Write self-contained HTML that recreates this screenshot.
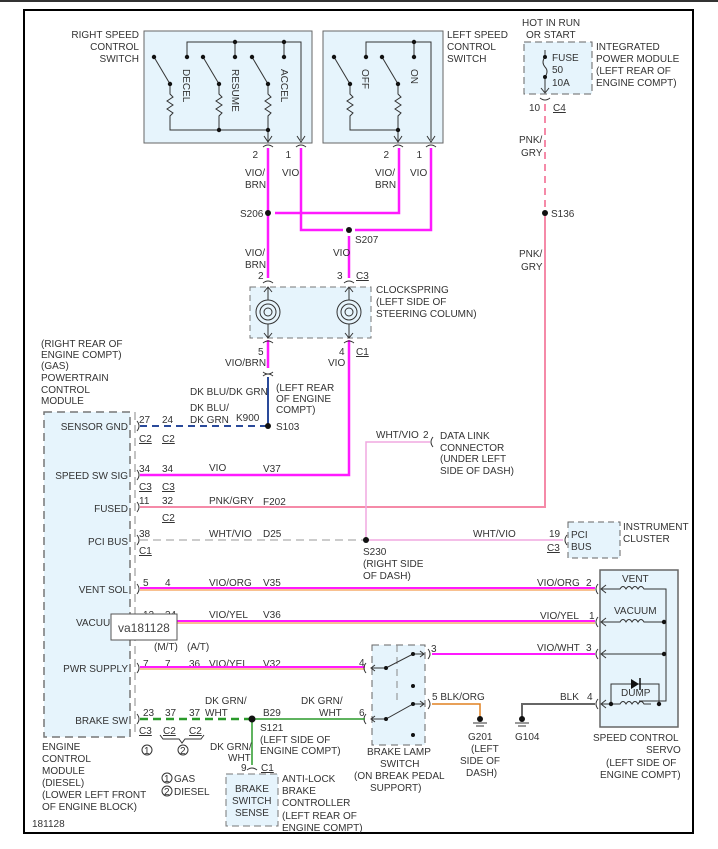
<!DOCTYPE html>
<html><head><meta charset="utf-8"><style>
html,body{margin:0;padding:0;background:#fff;}
svg{display:block;font-family:"Liberation Sans",sans-serif;}
text{font-size:10px;fill:#333;}
</style></head><body>
<svg width="718" height="849" viewBox="0 0 718 849" xmlns="http://www.w3.org/2000/svg">
<defs>
<marker id="ah" markerWidth="8" markerHeight="8" refX="4" refY="7" orient="auto" markerUnits="userSpaceOnUse">
<path d="M0,1 L4,7 L8,1" fill="none" stroke="#333" stroke-width="1"/></marker>
</defs>
<rect x="0" y="0" width="718" height="2" fill="#333"/>
<rect x="24" y="10" width="669" height="823" fill="none" stroke="#000" stroke-width="2"/>

<!-- Right speed switch -->
<rect x="144" y="31" width="168" height="112" fill="#e6f4fc" stroke="#666"/>
<text x="139" y="38" text-anchor="end">RIGHT SPEED</text>
<text x="139" y="50" text-anchor="end">CONTROL</text>
<text x="139" y="62" text-anchor="end">SWITCH</text>
<g stroke="#333" stroke-width="1" fill="none">
<polyline points="187,57 187,42 301,42 301,140"/>
<line x1="235" y1="42" x2="235" y2="57"/><line x1="284" y1="42" x2="284" y2="57"/>
<line x1="154" y1="57" x2="170" y2="84"/><line x1="203" y1="57" x2="219" y2="84"/><line x1="252" y1="57" x2="268" y2="84"/>
<path d="M170,84 v10 l3,3 l-6,4 l6,4 l-6,4 l6,4 l-3,3 v8 M219,84 v10 l3,3 l-6,4 l6,4 l-6,4 l6,4 l-3,3 v8 M268,84 v10 l3,3 l-6,4 l6,4 l-6,4 l6,4 l-3,3 v8"/>
<polyline points="170,122 170,130 268,130"/><line x1="219" y1="122" x2="219" y2="130"/>
<line x1="268" y1="122" x2="268" y2="141"/>
<path d="M264,136 L268,142 L272,136 M297,136 L301,142 L305,136"/>
<path d="M263,147 q5,-4 10,0 M296,147 q5,-4 10,0"/>
</g>
<g fill="#111">
<circle cx="154" cy="57" r="2.2"/><circle cx="187" cy="57" r="2.2"/><circle cx="203" cy="57" r="2.2"/><circle cx="235" cy="57" r="2.2"/><circle cx="252" cy="57" r="2.2"/><circle cx="284" cy="57" r="2.2"/>
<circle cx="170" cy="84" r="2.2"/><circle cx="219" cy="84" r="2.2"/><circle cx="268" cy="84" r="2.2"/>
<circle cx="235" cy="42" r="2.2"/><circle cx="284" cy="42" r="2.2"/>
<circle cx="219" cy="130" r="2.2"/><circle cx="268" cy="130" r="2.2"/>
</g>
<text transform="translate(183,69) rotate(90)">DECEL</text>
<text transform="translate(232,69) rotate(90)">RESUME</text>
<text transform="translate(281,69) rotate(90)">ACCEL</text>

<!-- Left speed switch -->
<rect x="323" y="31" width="120" height="112" fill="#e6f4fc" stroke="#666"/>
<text x="447" y="38">LEFT SPEED</text><text x="447" y="50">CONTROL</text><text x="447" y="62">SWITCH</text>
<g stroke="#333" stroke-width="1" fill="none">
<polyline points="366,57 366,42 431,42 431,140"/>
<line x1="414" y1="42" x2="414" y2="57"/>
<line x1="334" y1="57" x2="350" y2="84"/><line x1="382" y1="57" x2="398" y2="84"/>
<path d="M350,84 v10 l3,3 l-6,4 l6,4 l-6,4 l6,4 l-3,3 v8 M398,84 v10 l3,3 l-6,4 l6,4 l-6,4 l6,4 l-3,3 v8"/>
<polyline points="350,122 350,130 398,130"/><line x1="398" y1="122" x2="398" y2="141"/>
<path d="M394,136 L398,142 L402,136 M427,136 L431,142 L435,136"/>
<path d="M393,147 q5,-4 10,0 M426,147 q5,-4 10,0"/>
</g>
<g fill="#111">
<circle cx="334" cy="57" r="2.2"/><circle cx="366" cy="57" r="2.2"/><circle cx="382" cy="57" r="2.2"/><circle cx="414" cy="57" r="2.2"/>
<circle cx="350" cy="84" r="2.2"/><circle cx="398" cy="84" r="2.2"/><circle cx="414" cy="42" r="2.2"/><circle cx="398" cy="130" r="2.2"/>
</g>
<text transform="translate(362,69) rotate(90)">OFF</text>
<text transform="translate(411,69) rotate(90)">ON</text>

<!-- top magenta wires -->
<g stroke="#ff1aff" stroke-width="2.5" fill="none">
<line x1="268" y1="148" x2="268" y2="278"/>
<polyline points="301,148 301,230 343,230"/>
<polyline points="275,213 399,213 399,148"/>
<polyline points="355,230 431,230 431,148"/>
<line x1="349" y1="236" x2="349" y2="278"/>
<line x1="268" y1="340" x2="268" y2="368"/>
<polyline points="349,340 349,475 140,475"/>
</g>
<g fill="#111"><circle cx="268" cy="213" r="3"/><circle cx="349" cy="230" r="3"/></g>
<text x="258" y="158" text-anchor="end">2</text><text x="291" y="158" text-anchor="end">1</text>
<text x="389" y="158" text-anchor="end">2</text><text x="422" y="158" text-anchor="end">1</text>
<text x="245" y="176">VIO/</text><text x="245" y="188">BRN</text><text x="282" y="176">VIO</text>
<text x="375" y="176">VIO/</text><text x="375" y="188">BRN</text><text x="410" y="176">VIO</text>
<text x="240" y="217">S206</text><text x="355" y="243">S207</text>
<text x="245" y="256">VIO/</text><text x="245" y="268">BRN</text><text x="333" y="256">VIO</text>
<text x="258" y="279">2</text><text x="337" y="279">3</text><text x="356" y="279" text-decoration="underline">C3</text>

<!-- clockspring -->
<rect x="250" y="287" width="121" height="51" fill="#e6f4fc" stroke="#777" stroke-dasharray="6,4"/>
<g stroke="#333" fill="none" stroke-width="1">
<circle cx="268" cy="312" r="12"/><circle cx="268" cy="312" r="8"/><circle cx="268" cy="312" r="4"/>
<circle cx="349" cy="312" r="12"/><circle cx="349" cy="312" r="8"/><circle cx="349" cy="312" r="4"/>
<line x1="268" y1="287" x2="268" y2="300"/><line x1="268" y1="324" x2="268" y2="338"/>
<line x1="349" y1="287" x2="349" y2="300"/><line x1="349" y1="324" x2="349" y2="338"/>
<path d="M264,292 L268,287 L272,292 M345,292 L349,287 L353,292 M264,333 L268,338 L272,333 M345,333 L349,338 L353,333"/>
<path d="M263,283 q5,-4 10,0 M344,283 q5,-4 10,0 M263,343 q5,-4 10,0 M344,343 q5,-4 10,0 M263,372 q5,4 10,0 M263,376 q5,-4 10,0"/>
</g>
<text x="376" y="293">CLOCKSPRING</text><text x="376" y="305">(LEFT SIDE OF</text><text x="376" y="317">STEERING COLUMN)</text>
<text x="258" y="355">5</text><text x="339" y="355">4</text><text x="356" y="355" text-decoration="underline">C1</text>
<text x="225" y="366">VIO/BRN</text><text x="328" y="366">VIO</text>

<!-- S103 blue -->
<line x1="268" y1="377" x2="268" y2="426" stroke="#2a4a9a" stroke-width="2"/>
<line x1="140" y1="426" x2="268" y2="426" stroke="#2a4a9a" stroke-width="2" stroke-dasharray="7,5"/>
<circle cx="268" cy="426" r="3" fill="#111"/>
<text x="276" y="391">(LEFT REAR</text><text x="276" y="402">OF ENGINE</text><text x="276" y="413">COMPT)</text>
<text x="276" y="430">S103</text>
<text x="190" y="395">DK BLU/DK GRN</text>
<text x="190" y="411">DK BLU/</text><text x="190" y="423">DK GRN</text><text x="236" y="421">K900</text>

<!-- PCM -->
<text x="41" y="347">(RIGHT REAR OF</text><text x="41" y="358">ENGINE COMPT)</text><text x="41" y="369">(GAS)</text>
<text x="41" y="381">POWERTRAIN</text><text x="41" y="393">CONTROL</text><text x="41" y="404">MODULE</text>
<rect x="44" y="412" width="86" height="325" fill="#e6f4fc" stroke="#777" stroke-width="1.5" stroke-dasharray="8,5"/>
<line x1="135" y1="412" x2="135" y2="737" stroke="#888" stroke-dasharray="8,5"/>
<g text-anchor="end">
<text x="128" y="430">SENSOR GND</text><text x="128" y="479">SPEED SW SIG</text><text x="128" y="512">FUSED</text>
<text x="128" y="545">PCI BUS</text><text x="128" y="593">VENT SOL</text><text x="128" y="626">VACUUM S</text>
<text x="128" y="672">PWR SUPPLY</text><text x="128" y="724">BRAKE SW</text>
</g>
<g stroke="#333" fill="none"><path d="M137,421 q4,5 0,10 M137,470 q4,5 0,10 M137,502 q4,5 0,10 M137,535 q4,5 0,10 M137,584 q4,5 0,10 M137,617 q4,5 0,10 M137,663 q4,5 0,10 M137,714 q4,5 0,10"/></g>

<!-- pins -->
<text x="139" y="423">27</text><text x="162" y="423">24</text>
<text x="139" y="442" text-decoration="underline">C2</text><text x="162" y="442" text-decoration="underline">C2</text>
<text x="139" y="472">34</text><text x="162" y="472">34</text><text x="209" y="471">VIO</text><text x="263" y="472">V37</text>
<text x="139" y="490" text-decoration="underline">C3</text><text x="162" y="490" text-decoration="underline">C3</text>
<text x="139" y="504">11</text><text x="162" y="504">32</text><text x="209" y="504">PNK/GRY</text><text x="263" y="505">F202</text>
<text x="162" y="521" text-decoration="underline">C2</text>
<text x="139" y="537">38</text><text x="209" y="537">WHT/VIO</text><text x="263" y="537">D25</text>
<text x="139" y="554" text-decoration="underline">C1</text>
<text x="143" y="586">5</text><text x="165" y="586">4</text><text x="209" y="586">VIO/ORG</text><text x="263" y="586">V35</text>
<text x="143" y="618">12</text><text x="165" y="618">34</text><text x="209" y="618">VIO/YEL</text><text x="263" y="618">V36</text>
<text x="154" y="650">(M/T)</text><text x="187" y="650">(A/T)</text>
<text x="143" y="667">7</text><text x="165" y="667">7</text><text x="189" y="667">36</text><text x="209" y="667">VIO/YEL</text><text x="263" y="667">V32</text>
<text x="143" y="716">23</text><text x="165" y="716">37</text><text x="189" y="716">37</text><text x="205" y="716">WHT</text><text x="205" y="704">DK GRN/</text>
<text x="139" y="734" text-decoration="underline">C3</text><text x="163" y="734" text-decoration="underline">C2</text><text x="189" y="734" text-decoration="underline">C2</text>
<path d="M160,735 l3,4 h16 l3,4 l3,-4 h16 l3,-4" stroke="#333" fill="none"/>
<circle cx="147" cy="750" r="5" fill="none" stroke="#333"/><text x="144" y="754" font-size="9">1</text>
<circle cx="183" cy="750" r="5" fill="none" stroke="#333"/><text x="180" y="754" font-size="9">2</text>

<!-- fuse -->
<text x="522" y="26">HOT IN RUN</text><text x="526" y="38">OR START</text>
<rect x="524" y="42" width="68" height="52" fill="#e6f4fc" stroke="#666" stroke-dasharray="7,4"/>
<g stroke="#333" fill="none"><line x1="545" y1="50" x2="545" y2="57"/><path d="M545,57 q-4,5 0,10 q4,4 0,10"/><line x1="545" y1="77" x2="545" y2="92"/><path d="M541,88 L545,93 L549,88 M540,98 q5,4 10,0"/></g>
<circle cx="545" cy="57" r="2" fill="#111"/><circle cx="545" cy="77" r="2" fill="#111"/>
<text x="552" y="61">FUSE</text><text x="552" y="73">50</text><text x="552" y="86">10A</text>
<text x="596" y="50">INTEGRATED</text><text x="596" y="62">POWER MODULE</text><text x="596" y="74">(LEFT REAR OF</text><text x="596" y="86">ENGINE COMPT)</text>
<text x="529" y="111">10</text><text x="553" y="111" text-decoration="underline">C4</text>
<line x1="545" y1="104" x2="545" y2="213" stroke="#f58aa8" stroke-width="2" stroke-dasharray="7,5"/>
<polyline points="545,213 545,507 140,507" stroke="#f58aa8" stroke-width="2" fill="none"/>
<circle cx="545" cy="213" r="3" fill="#111"/><text x="551" y="217">S136</text>
<text x="519" y="143">PNK/</text><text x="521" y="156">GRY</text>
<text x="519" y="257">PNK/</text><text x="521" y="270">GRY</text>

<!-- PCI bus -->
<line x1="140" y1="540" x2="366" y2="540" stroke="#ccc" stroke-width="2" stroke-dasharray="8,5"/>
<polyline points="366,540 366,442 430,442" stroke="#f0a8e0" stroke-width="1.5" fill="none"/>
<line x1="366" y1="540" x2="563" y2="540" stroke="#f0a8e0" stroke-width="1.5"/>
<circle cx="366" cy="540" r="3" fill="#111"/>
<path d="M433,437 q-4,5 0,10 M567,535 q-4,5 0,10" stroke="#333" fill="none"/>
<text x="376" y="438">WHT/VIO</text><text x="423" y="438">2</text>
<text x="440" y="439">DATA LINK</text><text x="440" y="451">CONNECTOR</text><text x="440" y="462">(UNDER LEFT</text><text x="440" y="474">SIDE OF DASH)</text>
<text x="363" y="555">S230</text><text x="363" y="567">(RIGHT SIDE</text><text x="363" y="579">OF DASH)</text>
<text x="473" y="537">WHT/VIO</text><text x="549" y="537">19</text><text x="547" y="551" text-decoration="underline">C3</text>
<rect x="568" y="522" width="52" height="36" fill="#e6f4fc" stroke="#666" stroke-dasharray="6,4"/>
<text x="571" y="538">PCI</text><text x="571" y="550">BUS</text>
<text x="623" y="530">INSTRUMENT</text><text x="623" y="542">CLUSTER</text>

<!-- servo lines -->
<line x1="140" y1="590" x2="595" y2="590" stroke="#f08020" stroke-width="1"/>
<line x1="140" y1="588" x2="595" y2="588" stroke="#ff1aff" stroke-width="2"/>
<line x1="140" y1="623" x2="595" y2="623" stroke="#f08020" stroke-width="1"/>
<line x1="140" y1="621" x2="595" y2="621" stroke="#ff1aff" stroke-width="2"/>
<line x1="140" y1="669" x2="365" y2="669" stroke="#f08020" stroke-width="1"/>
<line x1="140" y1="667" x2="365" y2="667" stroke="#ff1aff" stroke-width="2"/>
<line x1="432" y1="654" x2="595" y2="654" stroke="#ff1aff" stroke-width="2"/>
<text x="537" y="586">VIO/ORG</text><text x="586" y="586">2</text>
<text x="540" y="619">VIO/YEL</text><text x="589" y="619">1</text>
<text x="537" y="651">VIO/WHT</text><text x="586" y="651">3</text>
<text x="560" y="700">BLK</text><text x="587" y="700">4</text>
<path d="M598,584 q-4,5 0,10 M598,617 q-4,5 0,10 M598,649 q-4,5 0,10 M598,699 q-4,5 0,10" stroke="#333" fill="none"/>
<rect x="600" y="570" width="78" height="157" fill="#e6f4fc" stroke="#666" stroke-width="1.5"/>
<g stroke="#333" fill="none" stroke-width="1">
<path d="M602,589 h18 q3,-5 6,0 q3,-5 6,0 q3,-5 6,0 q3,-5 6,0 h22 v112 h-27 M602,622 h18 q3,-5 6,0 q3,-5 6,0 q3,-5 6,0 q3,-5 6,0 h22 M602,654 h62 M611,704 v-20 h48 v20 M602,704 h18 q3,-5 6,0 q3,-5 6,0 q3,-5 6,0 q3,-5 6,0 h7"/>
<path d="M606,585 L601,589 L606,593 M606,618 L601,622 L606,626 M606,650 L601,654 L606,658 M606,700 L601,704 L606,708"/>
</g>
<path d="M631,679 L631,689 L639,684 Z" fill="#111"/><line x1="640" y1="678" x2="640" y2="690" stroke="#111" stroke-width="1.5"/>
<g fill="#111"><circle cx="664" cy="622" r="2.2"/><circle cx="664" cy="654" r="2.2"/><circle cx="611" cy="704" r="2.2"/><circle cx="659" cy="704" r="2.2"/></g>
<text x="622" y="582">VENT</text><text x="614" y="614">VACUUM</text><text x="621" y="696">DUMP</text>
<text x="593" y="741">SPEED CONTROL</text><text x="646" y="753">SERVO</text><text x="606" y="766">(LEFT SIDE OF</text><text x="600" y="778">ENGINE COMPT)</text>

<!-- brake lamp switch -->
<rect x="372" y="645" width="53" height="100" fill="#e6f4fc" stroke="#666" stroke-dasharray="7,5"/>
<line x1="397" y1="645" x2="397" y2="700" stroke="#888" stroke-dasharray="7,5"/>
<g stroke="#333" fill="none">
<path d="M366,663 q-4,5 0,10 M366,714 q-4,5 0,10 M428,649 q4,5 0,10 M428,699 q4,5 0,10"/>
<polyline points="371,668 386,668 413,654 424,654"/><path d="M375,665 L371,668 L375,671 M420,651 L424,654 L420,657"/>
<polyline points="371,719 386,719 413,704 424,704"/><path d="M375,716 L371,719 L375,722 M420,701 L424,704 L420,707"/>
</g>
<g fill="#111"><circle cx="386" cy="668" r="2"/><circle cx="413" cy="654" r="2"/><circle cx="413" cy="686" r="2"/><circle cx="386" cy="719" r="2"/><circle cx="413" cy="704" r="2"/><circle cx="413" cy="735" r="2"/></g>
<text x="359" y="666">4</text><text x="359" y="716">6</text><text x="431" y="652">3</text><text x="432" y="700">5 BLK/ORG</text>
<text x="367" y="755">BRAKE LAMP</text><text x="380" y="767">SWITCH</text><text x="354" y="779">(ON BREAK PEDAL</text><text x="370" y="791">SUPPORT)</text>
<polyline points="432,704 480,704 480,717" stroke="#e08020" stroke-width="1.5" fill="none"/>
<polyline points="522,717 522,704 595,704" stroke="#666" stroke-width="2" fill="none"/>
<g fill="#111"><circle cx="480" cy="719" r="3"/><circle cx="522" cy="719" r="3"/></g>
<g stroke="#333"><line x1="473" y1="723" x2="487" y2="723"/><line x1="476" y1="726" x2="484" y2="726"/><line x1="515" y1="723" x2="529" y2="723"/><line x1="518" y1="726" x2="526" y2="726"/></g>
<text x="468" y="740">G201</text><text x="471" y="752">(LEFT</text><text x="460" y="764">SIDE OF</text><text x="466" y="776">DASH)</text>
<text x="515" y="740">G104</text>

<!-- brake sw green -->
<line x1="140" y1="719" x2="250" y2="719" stroke="#2a9a2a" stroke-width="2.5" stroke-dasharray="8,5"/>
<line x1="252" y1="719" x2="365" y2="719" stroke="#2a9a2a" stroke-width="1.5"/>
<line x1="252" y1="719" x2="252" y2="765" stroke="#2a9a2a" stroke-width="1.5"/>
<circle cx="252" cy="719" r="3.5" fill="#111"/>
<text x="263" y="716">B29</text><text x="301" y="704">DK GRN/</text><text x="319" y="716">WHT</text>
<text x="260" y="731">S121</text><text x="260" y="743">(LEFT SIDE OF</text><text x="260" y="754">ENGINE COMPT)</text>
<text x="210" y="750">DK GRN/</text><text x="228" y="761">WHT</text>
<text x="241" y="771">9</text><text x="261" y="771" text-decoration="underline">C1</text>
<path d="M247,770 q5,-4 10,0" stroke="#333" fill="none"/>
<rect x="226" y="774" width="52" height="52" fill="#e6f4fc" stroke="#777" stroke-dasharray="7,4"/>
<text x="235" y="792">BRAKE</text><text x="232" y="804">SWITCH</text><text x="235" y="816">SENSE</text>
<text x="282" y="782">ANTI-LOCK</text><text x="282" y="794">BRAKE</text><text x="282" y="806">CONTROLLER</text><text x="282" y="819">(LEFT REAR OF</text><text x="282" y="831">ENGINE COMPT)</text>

<text x="42" y="750">ENGINE</text><text x="42" y="762">CONTROL</text><text x="42" y="774">MODULE</text><text x="42" y="786">(DIESEL)</text><text x="42" y="798">(LOWER LEFT FRONT</text><text x="42" y="810">OF ENGINE BLOCK)</text>
<circle cx="167" cy="778" r="5" fill="none" stroke="#333"/><text x="164" y="782" font-size="9">1</text><text x="174" y="782">GAS</text>
<circle cx="167" cy="791" r="5" fill="none" stroke="#333"/><text x="164" y="795" font-size="9">2</text><text x="174" y="795">DIESEL</text>
<text x="32" y="827">181128</text>

<rect x="111" y="614" width="66" height="26" fill="#fff" stroke="#555"/>
<text x="118" y="632" style="font-size:12px;fill:#444">va181128</text>
</svg>
</body></html>
